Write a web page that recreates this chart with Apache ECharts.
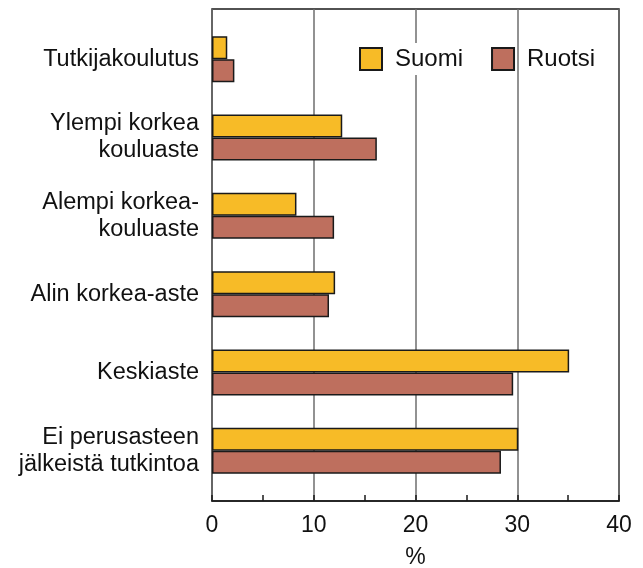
<!DOCTYPE html>
<html>
<head>
<meta charset="utf-8">
<script src="https://cdn.jsdelivr.net/npm/echarts@6/dist/echarts.min.js"></script>
<style>
  html, body { margin: 0; padding: 0; background: #fff; }
  #chart { width: 643px; height: 568px; }
</style>
</head>
<body>
<div id="chart"></div>
<script>
// koulutustaso, Suomi vs Ruotsi (%)
var categories = [
  'Tutkijakoulutus',
  'Ylempi korkea\nkouluaste',
  'Alempi korkea-\nkouluaste',
  'Alin korkea-aste',
  'Keskiaste',
  'Ei perusasteen\njälkeistä tutkintoa'
];
var suomi = [1.5, 12.8, 8.3, 12.1, 35.1, 30.1];
var ruotsi = [2.2, 16.2, 12.0, 11.5, 29.6, 28.4];

var font = '"Liberation Sans", Arial, sans-serif';

var myChart = echarts.init(document.getElementById('chart'));

var option = {
  backgroundColor: '#fff',
  animation: false,
  textStyle: { fontFamily: font },
  legend: {
    data: ['Suomi', 'Ruotsi'],
    icon: 'rect',
    left: 359,
    top: 43,
    padding: 0,
    itemWidth: 22,
    itemHeight: 22,
    itemGap: 26,
    textStyle: {
      fontFamily: font,
      fontSize: 24,
      color: '#111',
      backgroundColor: '#fff',
      padding: [4, 2, 4, 8]
    }
  },
  grid: [
    // frame + value axis
    { left: 212, right: 24, top: 9, bottom: 67, show: true, borderColor: '#1a1a1a', borderWidth: 1.5, containLabel: false, outerBoundsMode: 'none' },
    // bars
    { left: 212, right: 24, top: 20, height: 470, containLabel: false, outerBoundsMode: 'none' }
  ],
  xAxis: [
    {
      gridIndex: 0,
      type: 'value',
      min: 0,
      max: 40,
      interval: 10,
      name: '%',
      nameLocation: 'middle',
      nameGap: 45,
      nameTextStyle: { fontFamily: font, fontSize: 23, color: '#111' },
      axisLine: { show: true, lineStyle: { color: '#1a1a1a', width: 1.5 } },
      axisTick: { show: true, inside: true, length: 6, lineStyle: { color: '#1a1a1a', width: 1.5 } },
      minorTick: { show: true, splitNumber: 2, length: 6, lineStyle: { color: '#1a1a1a', width: 1.5 } },
      splitLine: { show: true, lineStyle: { color: '#6e6e6e', width: 1.5 } },
      axisLabel: { margin: 13, fontFamily: font, fontSize: 23, color: '#111' }
    },
    {
      gridIndex: 1,
      type: 'value',
      min: 0,
      max: 40,
      show: false
    }
  ],
  yAxis: [
    { gridIndex: 0, type: 'value', show: false },
    {
      gridIndex: 1,
      type: 'category',
      inverse: true,
      data: categories,
      axisLine: { show: false },
      axisTick: { show: false },
      axisLabel: {
        margin: 13,
        fontFamily: font,
        fontSize: 23.5,
        lineHeight: 27,
        color: '#111',
        align: 'right',
        padding: [6, 0, 0, 0]
      }
    }
  ],
  series: [
    {
      name: 'Suomi',
      type: 'bar',
      xAxisIndex: 1,
      yAxisIndex: 1,
      data: suomi,
      barWidth: 23,
      barGap: '0%',
      itemStyle: { color: '#F7BB27', borderColor: '#1a1a1a', borderWidth: 1.5 }
    },
    {
      name: 'Ruotsi',
      type: 'bar',
      xAxisIndex: 1,
      yAxisIndex: 1,
      data: ruotsi,
      barWidth: 23,
      barGap: '0%',
      itemStyle: { color: '#BE6F5E', borderColor: '#1a1a1a', borderWidth: 1.5 }
    }
  ]
};

myChart.setOption(option);
</script>
</body>
</html>
